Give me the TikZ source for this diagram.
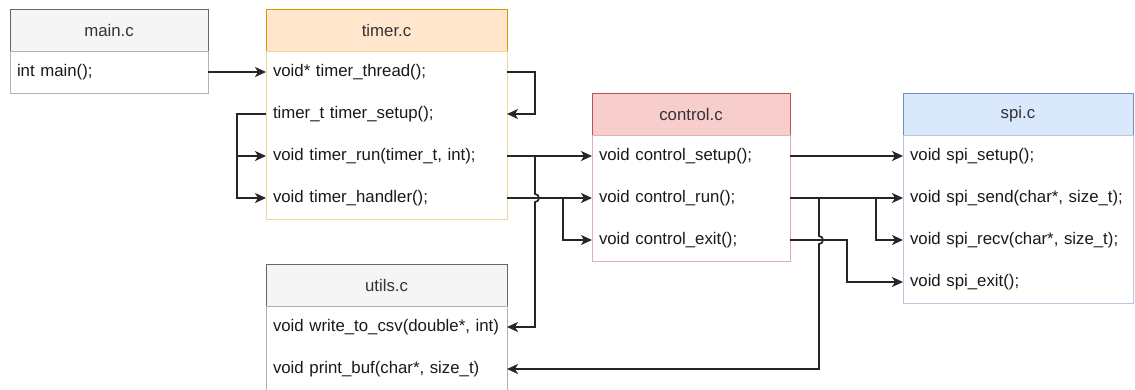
\documentclass[tikz,border=0pt]{standalone}
\usepackage{fontspec}
\setmainfont{Liberation Sans}
\usetikzlibrary{positioning,arrows.meta}

\definecolor{grayfill}{HTML}{F5F5F5}
\definecolor{grayline}{HTML}{666666}
\definecolor{timerfill}{HTML}{FFE6CC}
\definecolor{timerline}{HTML}{D79B00}
\definecolor{ctrlfill}{HTML}{F8CECC}
\definecolor{ctrlline}{HTML}{B85450}
\definecolor{spifill}{HTML}{DAE8FC}
\definecolor{spiline}{HTML}{6C8EBF}
\definecolor{labeltext}{HTML}{333333}

\begin{document}
\begin{tikzpicture}[x=1pt,y=-1pt,
    link/.style={-{Stealth[length=11pt,width=10pt,inset=3pt]},line width=1.7pt,draw=black!85},
    head/.style={draw,line width=1pt,anchor=north west,minimum height=42pt,inner sep=0pt,outer sep=0pt,font=\fontsize{16.8}{20}\selectfont,text=labeltext},
    row/.style={minimum height=42pt,inner xsep=7pt,inner ysep=0pt,outer sep=0pt,align=left,text width=#1,font=\fontsize{16.8}{20}\selectfont,text=black!90},
    body/.style={line width=1pt}]
    \useasboundingbox (0,0) rectangle (1135,389);

    % main.c
    \node[head,fill=grayfill,draw=grayline,minimum width=198pt] (main) at (10,9) {main.c};
    \node[row=184pt] (main1) [below=0pt of main] {int main();};
    \draw[body,draw=grayline!50] (main.south west) rectangle (main1.south east);

    % timer.c
    \node[head,fill=timerfill,draw=timerline,minimum width=241pt] (timer) at (266,9) {timer.c};
    \node[row=227pt] (timer1) [below=0pt of timer] {void* timer\_thread();};
    \node[row=227pt] (timer2) [below=0pt of timer1] {timer\_t timer\_setup();};
    \node[row=227pt] (timer3) [below=0pt of timer2] {void timer\_run(timer\_t, int);};
    \node[row=227pt] (timer4) [below=0pt of timer3] {void timer\_handler();};
    \draw[body,draw=timerline!40] (timer.south west) rectangle (timer4.south east);

    % control.c
    \node[head,fill=ctrlfill,draw=ctrlline,minimum width=198pt] (ctrl) at (592,93) {control.c};
    \node[row=184pt] (ctrl1) [below=0pt of ctrl] {void control\_setup();};
    \node[row=184pt] (ctrl2) [below=0pt of ctrl1] {void control\_run();};
    \node[row=184pt] (ctrl3) [below=0pt of ctrl2] {void control\_exit();};
    \draw[body,draw=ctrlline!45] (ctrl.south west) rectangle (ctrl3.south east);

    % spi.c
    \node[head,fill=spifill,draw=spiline,minimum width=230pt] (spi) at (903,93) {spi.c};
    \node[row=216pt] (spi1) [below=0pt of spi] {void spi\_setup();};
    \node[row=216pt] (spi2) [below=0pt of spi1] {void spi\_send(char*, size\_t);};
    \node[row=216pt] (spi3) [below=0pt of spi2] {void spi\_recv(char*, size\_t);};
    \node[row=216pt] (spi4) [below=0pt of spi3] {void spi\_exit();};
    \draw[body,draw=spiline!50] (spi.south west) rectangle (spi4.south east);

    % utils.c
    \node[head,fill=grayfill,draw=grayline,minimum width=241pt] (utils) at (266,264) {utils.c};
    \node[row=227pt] (utils1) [below=0pt of utils] {\mbox{void write\_to\_csv(double*, int)}};
    \node[row=227pt] (utils2) [below=0pt of utils1] {void print\_buf(char*, size\_t)};
    \draw[body,draw=grayline!50] (utils.south west) rectangle (utils2.south east);

    % calls
    \draw[link] (main1.east) -- (timer1.west);
    \draw[link] (timer1.east) -- ++(28,0) |- (timer2.east);
    \draw[link] (timer2.west) -- ++(-29,0) |- (timer3.west);
    \draw[link] (timer2.west) -- ++(-29,0) |- (timer4.west);
    \draw[link] (timer3.east) -- (ctrl1.west);
    \draw[link] (timer3.east) -- ++(28,0) -- ++(0,38)
        arc[start angle=-90,end angle=90,radius=4] |- (utils1.east);
    \draw[link] (timer4.east) -- (ctrl2.west);
    \draw[link] (timer4.east) -- ++(56,0) |- (ctrl3.west);
    \draw[link] (ctrl1.east) -- (spi1.west);
    \draw[link] (ctrl2.east) -- (spi2.west);
    \draw[link] (ctrl2.east) -- ++(86,0) |- (spi3.west);
    \draw[link] (ctrl2.east) -- ++(29,0) -- ++(0,38)
        arc[start angle=-90,end angle=90,radius=4] |- (utils2.east);
    \draw[link] (ctrl3.east) -- ++(57,0) |- (spi4.west);
\end{tikzpicture}
\end{document}
